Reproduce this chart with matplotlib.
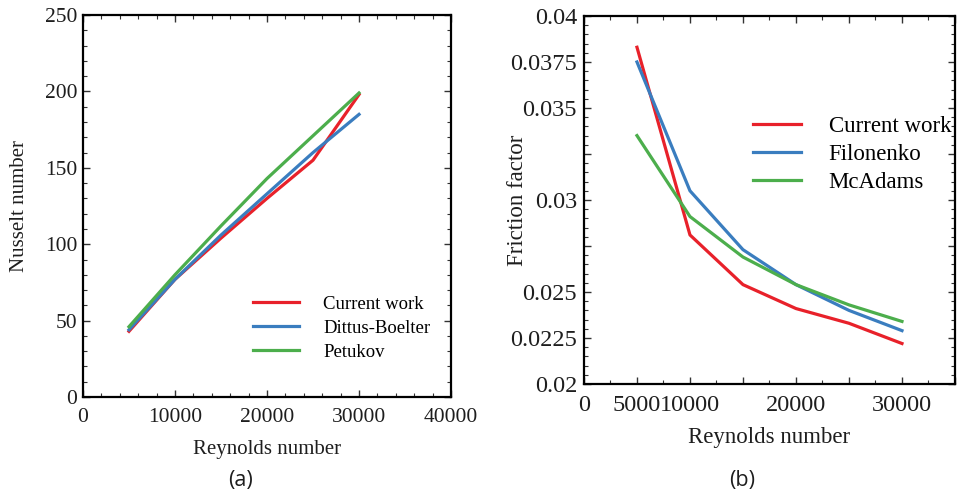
import matplotlib
matplotlib.use("Agg")
import matplotlib.pyplot as plt
from matplotlib.ticker import MultipleLocator, FixedLocator

plt.rcParams['font.family'] = ['Liberation Serif', 'DejaVu Serif']

re_vals = [5000, 10000, 15000, 20000, 25000, 30000]

nu_current = [43, 77, 104, 130, 155, 198]
nu_dittus = [44, 77, 106, 133, 160, 185]
nu_petukov = [46, 80, 112, 143, 171, 199]

f_current = [0.0383, 0.0281, 0.0254, 0.0241, 0.0233, 0.0222]
f_filonenko = [0.0375, 0.0305, 0.0273, 0.0254, 0.0240, 0.0229]
f_mcadams = [0.0335, 0.0291, 0.0269, 0.0254, 0.0243, 0.0234]

b_xticks = [0, 5000, 10000, 15000, 20000, 25000, 30000, 35000]
b_xlabels = ['0', '5000', '10000', '', '20000', '', '30000', '']
b_yticks = [0.02, 0.0225, 0.025, 0.0275, 0.03, 0.0325, 0.035, 0.0375, 0.04]
b_ylabels = ['0.02', '0.0225', '0.025', '', '0.03', '', '0.035', '0.0375', '0.04']

RED = '#e8212a'
BLUE = '#3a7dbf'
GREEN = '#4cae4c'
TXT = '#1e1e1e'

fig = plt.figure(figsize=(9.57, 4.96), dpi=100)

# Panel (a)
ax1 = fig.add_axes([0.0867, 0.1996, 0.3846, 0.770])
ax1.plot(re_vals, nu_current, color=RED, lw=2.3, label='Current work')
ax1.plot(re_vals, nu_dittus, color=BLUE, lw=2.3, label='Dittus-Boelter')
ax1.plot(re_vals, nu_petukov, color=GREEN, lw=2.3, label='Petukov')
ax1.set_xlim(0, 40000)
ax1.set_ylim(0, 250)
ax1.xaxis.set_major_locator(MultipleLocator(10000))
ax1.xaxis.set_minor_locator(MultipleLocator(2000))
ax1.yaxis.set_major_locator(MultipleLocator(50))
ax1.yaxis.set_minor_locator(MultipleLocator(10))
ax1.tick_params(which='both', direction='in', top=True, right=True, labelsize=15.5,
                color='#333333', labelcolor=TXT)
ax1.tick_params(axis='x', pad=8)
ax1.tick_params(axis='y', pad=4)
ax1.tick_params(which='major', length=5, width=1)
ax1.tick_params(which='minor', length=3, width=0.8)
for s in ax1.spines.values():
    s.set_linewidth(1.6)
ax1.set_xlabel('Reynolds number', fontsize=15, color=TXT)
ax1.set_ylabel('Nusselt number', fontsize=15, color=TXT)
ax1.xaxis.set_label_coords(0.5, -0.112)
ax1.yaxis.set_label_coords(-0.147, 0.5)
ax1.legend(loc='upper left', bbox_to_anchor=(0.4416, 0.285), frameon=False, fontsize=13.5,
           handlelength=2.45, handletextpad=1.3, labelspacing=0.36, borderaxespad=0)

# Panel (b)
ax2 = fig.add_axes([0.6102, 0.2258, 0.3877, 0.742])
ax2.plot(re_vals, f_current, color=RED, lw=2.3, label='Current work')
ax2.plot(re_vals, f_filonenko, color=BLUE, lw=2.3, label='Filonenko')
ax2.plot(re_vals, f_mcadams, color=GREEN, lw=2.3, label='McAdams')
ax2.set_xlim(0, 35000)
ax2.set_ylim(0.02, 0.04)
ax2.xaxis.set_major_locator(FixedLocator(b_xticks))
ax2.set_xticklabels(b_xlabels)
ax2.xaxis.set_minor_locator(MultipleLocator(2500))
ax2.yaxis.set_major_locator(FixedLocator(b_yticks))
ax2.set_yticklabels(b_ylabels)
ax2.yaxis.set_minor_locator(MultipleLocator(0.0005))
ax2.tick_params(which='both', direction='in', top=True, right=True, labelsize=17.5,
                color='#333333', labelcolor=TXT)
ax2.tick_params(axis='x', pad=8)
ax2.tick_params(axis='y', pad=5)
ax2.tick_params(which='major', length=5, width=1)
ax2.tick_params(which='minor', length=3, width=0.8)
for s in ax2.spines.values():
    s.set_linewidth(1.6)
ax2.set_xlabel('Reynolds number', fontsize=16.5, color=TXT)
ax2.set_ylabel('Friction factor', fontsize=16.5, color=TXT)
ax2.xaxis.set_label_coords(0.5, -0.118)
ax2.yaxis.set_label_coords(-0.151, 0.5)
ax2.legend(loc='upper left', bbox_to_anchor=(0.431, 0.752), frameon=False, fontsize=16.5,
           handlelength=2.1, handletextpad=1.2, labelspacing=0.3, borderaxespad=0)

fig.text(0.251, 0.032, '(a)', fontsize=15.5, family=['Open Sans', 'DejaVu Sans'],
         ha='center', va='center', color=TXT)
fig.text(0.775, 0.032, '(b)', fontsize=15.5, family=['Open Sans', 'DejaVu Sans'],
         ha='center', va='center', color=TXT)

fig.savefig('out.png', dpi=100)
